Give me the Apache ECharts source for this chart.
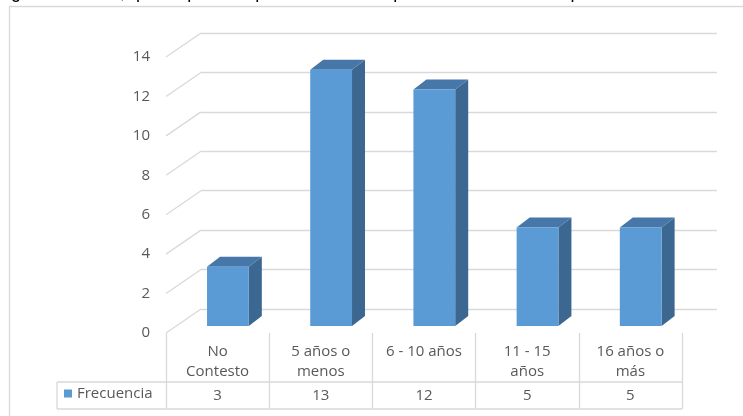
<!DOCTYPE html>
<html>
<head>
<meta charset="utf-8">
<script src="https://cdn.jsdelivr.net/npm/echarts@6/dist/echarts.min.js"></script>
<style>html,body{margin:0;padding:0;background:#fff;}#c{width:743px;height:416px;}</style>
</head>
<body>
<div id="c"></div>
<script>
const categories = ['No\nContesto', '5 años o\nmenos', '6 - 10 años', '11 - 15\naños', '16 años o\nmás'];
const frecuencia = [3, 13, 12, 5, 5];
const yTicks = [0, 2, 4, 6, 8, 10, 12, 14];
const seriesName = 'Frecuencia';
const topText = 'ugado en años, que requiere el proceso de acompañamiento en el tiempo';

const FONT = '"Open Sans", Lato, sans-serif';
const FS = 15;
const GRID = '#d9d9d9';
const TXT = '#595959';
const DEPTH_X = 35, DEPTH_Y = -24;

const chart = echarts.init(document.getElementById('c'), null, {renderer: 'canvas'});

function barItem(params, api) {
  const i = api.value(0), v = api.value(1);
  const band = api.size([1, 0])[0];
  const pT = api.coord([i, v]);
  const pB = api.coord([i, 0]);
  const w = band * 0.405;
  const x0 = pT[0] + band * 0.1 - w / 2, x1 = x0 + w;
  const yT = pT[1] - 7, yB = pB[1] - 7;
  const dx = 13, dy = -10;
  return {
    type: 'group',
    children: [
      {type: 'polygon', shape: {points: [[x1, yT], [x1 + dx, yT + dy], [x1 + dx, yB + dy], [x1, yB]]}, style: {fill: '#3b6791'}},
      {type: 'polygon', shape: {points: [[x0, yT], [x0 + dx, yT + dy], [x1 + dx, yT + dy], [x1, yT]]}, style: {fill: '#4677a8'}},
      {type: 'rect', shape: {x: x0, y: yT, width: w, height: yB - yT}, style: {fill: '#5b9bd5'}}
    ]
  };
}

function diagItem(params, api) {
  const v = api.value(1);
  const band = api.size([1, 0])[0];
  const p = api.coord([0, v]);
  const xl = p[0] - band / 2;
  return {type: 'line', shape: {x1: xl, y1: p[1], x2: xl + DEPTH_X, y2: p[1] + DEPTH_Y}, style: {stroke: GRID, lineWidth: 1.3}};
}

function valueItem(params, api) {
  const i = api.value(0), v = api.value(1);
  const p = api.coord([i, 0]);
  return {type: 'text', style: {text: String(v), x: p[0], y: p[1] + 62.5, align: 'center', verticalAlign: 'middle', fontSize: FS, fontFamily: FONT, fill: TXT}};
}

const option = {
  animation: false,
  color: ['#5b9bd5'],
  grid: [
    {left: 201, right: 26, top: 33, bottom: 107},
    {left: 166, right: 61, top: 57, bottom: 83}
  ],
  xAxis: [
    {gridIndex: 0, type: 'category', data: categories, show: false},
    {gridIndex: 1, type: 'category', data: categories,
     axisLine: {show: false},
     axisTick: {show: true, length: 76, lineStyle: {color: GRID, width: 1.3}},
     axisLabel: {margin: 9, fontSize: FS, lineHeight: 20, color: TXT, fontFamily: FONT, verticalAlign: 'top'}}
  ],
  yAxis: [
    {gridIndex: 0, type: 'value', min: 0, max: 14, interval: 2,
     axisLabel: {show: false}, axisLine: {show: false}, axisTick: {show: false},
     splitLine: {show: true, lineStyle: {color: GRID, width: 1.3}}},
    {gridIndex: 1, type: 'value', min: 0, max: 14, interval: 2,
     axisLabel: {margin: 16, fontSize: FS, color: TXT, fontFamily: FONT},
     axisLine: {show: false}, axisTick: {show: false}, splitLine: {show: false}}
  ],
  legend: {
    data: [{name: seriesName, icon: 'rect'}],
    left: 64, top: 386, padding: 0, itemWidth: 8, itemHeight: 8, itemGap: 6,
    selectedMode: false,
    textStyle: {fontSize: FS, color: TXT, fontFamily: FONT}
  },
  graphic: [
    {type: 'rect', shape: {x: 9.5, y: 6.5, width: 900, height: 600}, style: {fill: 'none', stroke: GRID, lineWidth: 1.3}, silent: true},
    {type: 'line', shape: {x1: 57, y1: 382, x2: 682, y2: 382}, style: {stroke: GRID, lineWidth: 1.3}},
    {type: 'line', shape: {x1: 57, y1: 409, x2: 682, y2: 409}, style: {stroke: GRID, lineWidth: 1.3}},
    {type: 'line', shape: {x1: 57, y1: 382, x2: 57, y2: 409}, style: {stroke: GRID, lineWidth: 1.3}},
    {type: 'text', style: {text: topText, x: 1, y: 2, verticalAlign: 'bottom', font: '18px Arial, "Liberation Sans", sans-serif', fill: '#000'}}
  ],
  series: [
    {type: 'custom', name: 'diag', xAxisIndex: 1, yAxisIndex: 1, silent: true, z: 1,
     data: yTicks.map(v => [0, v]), renderItem: diagItem},
    {type: 'custom', name: seriesName, xAxisIndex: 1, yAxisIndex: 1, z: 3,
     data: frecuencia.map((v, i) => [i, v]), renderItem: barItem},
    {type: 'custom', name: 'tabla', xAxisIndex: 1, yAxisIndex: 1, silent: true, z: 3,
     data: frecuencia.map((v, i) => [i, v]), renderItem: valueItem}
  ]
};
chart.setOption(option);
</script>
</body>
</html>
